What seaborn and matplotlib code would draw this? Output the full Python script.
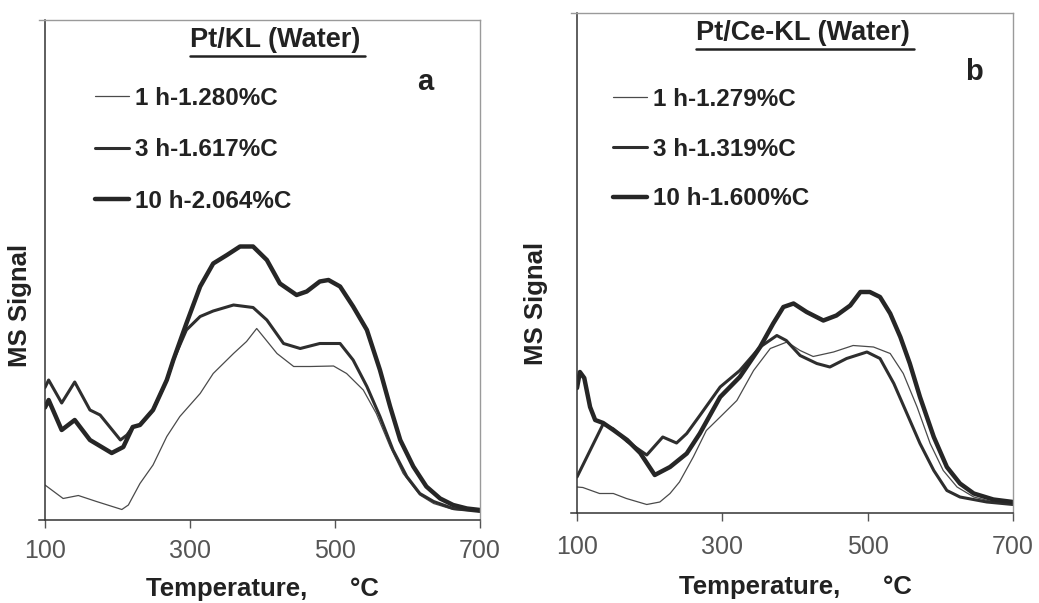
import matplotlib
matplotlib.use("Agg")
import matplotlib.pyplot as plt
import seaborn as sns
import pandas as pd
from matplotlib.lines import Line2D

# ---------------- data ----------------
# Panel a: Pt/KL (Water)
a_1h_T = [100, 125, 146, 171, 206, 215, 231, 249, 268, 286, 314, 332, 360, 378, 392, 401,
          420, 443, 466, 498, 516, 539, 557, 576, 594, 617, 636, 663, 700]
a_1h_v = [7.0, 4.3, 4.9, 3.7, 2.1, 3.0, 7.3, 11.0, 16.7, 20.7, 25.3, 29.3, 33.3, 35.7, 38.3, 36.7,
          33.3, 30.7, 30.7, 30.8, 29.3, 26.0, 21.3, 14.7, 9.3, 5.0, 3.3, 2.1, 1.7]

a_3h_T = [100, 105, 123, 141, 162, 176, 204, 213, 221, 231, 249, 268, 277, 295, 314, 332, 360,
          387, 406, 429, 452, 479, 507, 525, 544, 562, 580, 599, 617, 636, 663, 700]
a_3h_v = [26.5, 28.0, 23.4, 27.6, 22.0, 21.0, 16.0, 17.0, 18.6, 19.0, 22.0, 28.0, 32.0, 38.0, 40.7,
          41.8, 43.0, 42.5, 40.0, 35.3, 34.3, 35.3, 35.3, 32.0, 26.7, 20.7, 14.0, 8.7, 5.3, 3.7, 2.3, 1.7]

a_10h_T = [100, 105, 123, 141, 162, 192, 208, 221, 231, 249, 268, 277, 295, 314, 332, 351, 369,
           387, 406, 424, 447, 461, 479, 491, 507, 525, 544, 562, 576, 590, 608, 626, 645, 663, 682, 700]
a_10h_v = [22.5, 24.0, 18.0, 20.0, 16.0, 13.4, 14.6, 18.6, 19.0, 22.0, 28.0, 32.0, 39.3, 46.7, 51.3,
           53.0, 54.7, 54.7, 52.0, 47.3, 45.0, 45.7, 47.7, 48.0, 46.7, 42.7, 38.0, 30.0, 22.7, 16.0,
           10.7, 6.7, 4.3, 3.0, 2.3, 2.0]

# Panel b: Pt/Ce-KL (Water)
b_1h_T = [100, 108, 131, 150, 168, 196, 214, 228, 241, 260, 278, 297, 320, 343, 366, 389, 407,
          425, 453, 480, 508, 531, 549, 568, 586, 604, 623, 646, 673, 700]
b_1h_v = [5.2, 5.1, 3.9, 3.9, 2.9, 1.7, 2.2, 3.9, 6.2, 11.2, 16.5, 19.2, 22.5, 28.5, 32.9, 34.2,
          32.5, 31.3, 32.2, 33.5, 33.2, 31.9, 27.9, 21.2, 13.9, 8.5, 5.2, 3.2, 2.2, 1.9]

b_3h_T = [100, 118, 136, 150, 169, 187, 196, 218, 237, 251, 269, 297, 324, 352, 375, 388, 407,
          430, 448, 471, 499, 517, 536, 554, 572, 591, 609, 627, 664, 700]
b_3h_v = [7.2, 12.5, 17.8, 16.8, 14.3, 12.5, 11.6, 15.2, 14.0, 15.9, 19.5, 25.2, 28.5, 33.2, 35.5,
          34.5, 31.5, 29.9, 29.2, 30.9, 32.2, 30.9, 25.9, 19.9, 13.9, 8.5, 4.5, 3.2, 2.2, 1.7]

b_10h_T = [100, 104, 110, 118, 125, 136, 150, 169, 187, 207, 228, 251, 269, 297, 324, 352, 370,
           384, 398, 416, 439, 457, 476, 490, 503, 517, 531, 545, 558, 572, 591, 609, 627, 646, 673, 700]
b_10h_v = [25.0, 28.2, 27.0, 21.2, 18.6, 18.0, 16.6, 14.6, 12.0, 7.6, 9.2, 11.9, 15.9, 23.2, 27.2,
           33.2, 37.9, 41.2, 41.9, 40.2, 38.5, 39.5, 41.5, 44.2, 44.2, 43.2, 39.9, 35.2, 29.9, 23.2,
           15.2, 9.2, 5.9, 3.9, 2.7, 2.2]

labels_a = ["1 h-1.280%C", "3 h-1.617%C", "10 h-2.064%C"]
labels_b = ["1 h-1.279%C", "3 h-1.319%C", "10 h-1.600%C"]
titles = ["Pt/KL (Water)", "Pt/Ce-KL (Water)"]
panel_letters = ["a", "b"]
xticks = [100, 300, 500, 700]
xlabel = "Temperature,      \u00b0C"
ylabel = "MS Signal"

# ---------------- styling ----------------
sns.set_theme(style="white")
plt.rcParams["font.family"] = ["Liberation Sans", "DejaVu Sans"]

widths = [0.9, 2.2, 3.2]
colors = ["#4a4a4a", "#2e2e2e", "#262626"]

fig = plt.figure(figsize=(10.39, 6.03), dpi=100)
fig.patch.set_facecolor("white")
ax_a = fig.add_axes([45 / 1039, 83 / 603, 435 / 1039, 500 / 603])
ax_b = fig.add_axes([577 / 1039, 90 / 603, 436 / 1039, 500 / 603])

panels = [
    (ax_a, [(a_1h_T, a_1h_v), (a_3h_T, a_3h_v), (a_10h_T, a_10h_v)], labels_a),
    (ax_b, [(b_1h_T, b_1h_v), (b_3h_T, b_3h_v), (b_10h_T, b_10h_v)], labels_b),
]

cfg = {
    0: dict(title=(0.529, 0.960), uline=0.928, letter=(0.874, 0.876), leg=(0.115, 0.866),
            lsp=1.17, xl=-0.114, yl=(-0.03, 0.43), pad=8),
    1: dict(title=(0.518, 0.960), uline=0.928, letter=(0.911, 0.882), leg=(0.083, 0.850),
            lsp=1.1, xl=-0.124, yl=(-0.067, 0.42), pad=10),
}

for i, (ax, series, labels) in enumerate(panels):
    c = cfg[i]
    for (T, v), lab, lw, col in zip(series, labels, widths, colors):
        df = pd.DataFrame({"T": T, "v": v})
        sns.lineplot(data=df, x="T", y="v", ax=ax, color=col, linewidth=lw, label=lab,
                     solid_joinstyle="round", solid_capstyle="round")
    ax.set_xlim(100, 700)
    ax.set_ylim(0, 100)
    ax.set_facecolor("white")
    ax.set_xticks(xticks)
    ax.set_xticklabels([str(t) for t in xticks])
    ax.set_yticks([])
    ax.tick_params(axis="x", bottom=True, direction="out", length=6, width=1,
                   color="#555555", labelcolor="#555555", labelsize=18, pad=c["pad"])
    for s in ["left", "bottom"]:
        ax.spines[s].set_color("#333333")
        ax.spines[s].set_linewidth(1.1)
    for s in ["top", "right"]:
        ax.spines[s].set_color("#9a9a9a")
        ax.spines[s].set_linewidth(1.0)
    ax.spines["bottom"].set_bounds(92, 700)
    ax.spines["top"].set_bounds(92, 700)

    ax.set_xlabel(xlabel, fontsize=18.5, fontweight="bold", color="#222222")
    ax.xaxis.set_label_coords(0.5, c["xl"])
    ax.set_ylabel(ylabel, fontsize=18.5, fontweight="bold", color="#222222")
    ax.yaxis.set_label_coords(*c["yl"])

    t = ax.text(c["title"][0], c["title"][1], titles[i], transform=ax.transAxes,
                ha="center", va="center", fontsize=19.5, fontweight="bold", color="#222222")
    ax.text(c["letter"][0], c["letter"][1], panel_letters[i], transform=ax.transAxes,
            ha="center", va="center", fontsize=21, fontweight="bold", color="#222222")

    handles = [Line2D([], [], color=col, linewidth=lw) for lw, col in zip(widths, colors)]
    leg = ax.legend(handles, labels, loc="upper left", bbox_to_anchor=c["leg"],
                    frameon=False, borderpad=0, borderaxespad=0, handlelength=1.4,
                    handletextpad=0.25, labelspacing=c["lsp"],
                    prop={"size": 17.5, "weight": "bold", "family": ["Liberation Sans", "DejaVu Sans"]})
    for txt in leg.get_texts():
        txt.set_color("#222222")
    c["tobj"] = t

# underline the titles using the rendered text extents
fig.canvas.draw()
renderer = fig.canvas.get_renderer()
for i, ax in enumerate([ax_a, ax_b]):
    c = cfg[i]
    bb = c["tobj"].get_window_extent(renderer=renderer)
    inv = ax.transAxes.inverted()
    x0, _ = inv.transform((bb.x0, bb.y0))
    x1, _ = inv.transform((bb.x1, bb.y0))
    ax.add_line(Line2D([x0, x1 + 0.01], [c["uline"], c["uline"]], transform=ax.transAxes,
                       color="#222222", linewidth=1.8, clip_on=False))

fig.savefig("out.png", dpi=100, facecolor="white")
